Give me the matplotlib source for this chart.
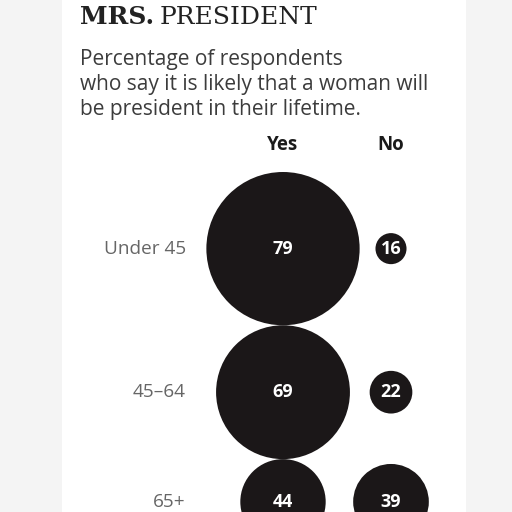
import numpy as np
import matplotlib
matplotlib.use("Agg")
import matplotlib.pyplot as plt
from matplotlib.patches import Circle, Rectangle

# data
groups = ["Under 45", "45\u201364", "65+"]
yes_vals = [79, 69, 44]
no_vals = [16, 22, 39]
columns = ["Yes", "No"]

# layout (pixels)
px_per_pct = 1.94      # circle diameter per percentage point
yes_x, no_x = 283, 391
top_y = 172
label_x = 186

fig = plt.figure(figsize=(5.12, 5.12), dpi=100)
fig.patch.set_facecolor("#f4f4f4")
ax = fig.add_axes([0, 0, 1, 1])
ax.set_xlim(0, 512)
ax.set_ylim(512, 0)
ax.set_aspect("equal")
ax.axis("off")

# white panel
ax.add_patch(Rectangle((62, -5), 404, 530, facecolor="white", edgecolor="none", zorder=0))

# title + subtitle
ax.text(80, 17, "MRS.", fontsize=18, fontweight="bold", family="DejaVu Serif",
        color="#222222", va="center", ha="left")
ax.text(160, 17, "PRESIDENT", fontsize=18, family="DejaVu Serif",
        color="#222222", va="center", ha="left")
subtitle = ["Percentage of respondents",
            "who say it is likely that a woman will",
            "be president in their lifetime."]
for i, line in enumerate(subtitle):
    ax.text(80, 59 + i * 25.5, line, fontsize=15, family="Open Sans",
            color="#3c3c3c", va="center", ha="left")

# column headers
for cx, name in zip([yes_x, no_x], columns):
    ax.text(cx, 145, name, fontsize=13.5, fontweight="bold", family="Open Sans",
            color="#1a1a1a", va="center", ha="center")

# circles stacked by yes diameters
d_yes = np.array(yes_vals) * px_per_pct
centers = top_y + np.cumsum(d_yes) - d_yes / 2
circ_color = "#1b1718"
for g, yv, nv, cy in zip(groups, yes_vals, no_vals, centers):
    for cx, v in [(yes_x, yv), (no_x, nv)]:
        ax.add_patch(Circle((cx, cy), v * px_per_pct / 2, facecolor=circ_color,
                            edgecolor="none", zorder=2))
        ax.text(cx, cy, str(v), fontsize=13, fontweight="bold", family="Open Sans",
                color="white", va="center", ha="center", zorder=3)
    ax.text(label_x, cy, g, fontsize=13.7, family="Open Sans", color="#666666",
            va="center", ha="right")

fig.savefig("out.png", dpi=100, facecolor=fig.get_facecolor())
